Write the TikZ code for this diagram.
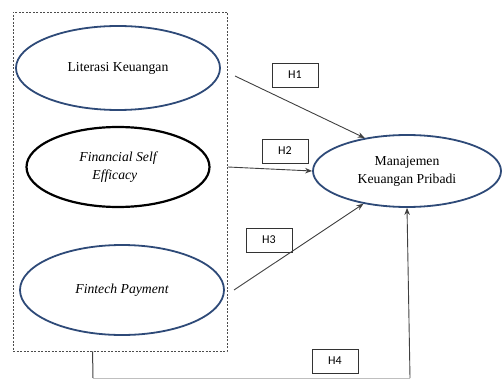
\documentclass[tikz,border=0pt]{standalone}
\usepackage{fontspec}
\setmainfont{Liberation Serif}
\newfontfamily\hfont{Carlito}
\usetikzlibrary{shapes.geometric,arrows.meta}
\definecolor{navy}{HTML}{2E4A78}
\begin{document}
\begin{tikzpicture}[x=1pt,y=-1pt,
  var/.style={ellipse,draw=navy,line width=1.8pt,inner sep=0pt,align=center,
    font=\fontsize{13.7}{18}\selectfont},
  hbox/.style={draw=black!80,line width=0.9pt,minimum width=46pt,minimum height=24pt,
    inner sep=0pt,font=\hfont\fontsize{12}{14}\selectfont},
  conn/.style={draw=black!75,line width=0.9pt,-{Stealth[length=7pt,width=5.5pt]}},
  plain/.style={draw=black!75,line width=1pt},
  faint/.style={draw=black!25,line width=1pt}]
\useasboundingbox (0,0) rectangle (502,379);
\node[draw=black!70,dash pattern=on 2pt off 1.5pt,line width=0.9pt,
  minimum width=214pt,minimum height=339pt,inner sep=0pt] (grp) at (120,181.5) {};
\node[var,minimum width=204pt,minimum height=84pt] (lk) at (118,68) {Literasi Keuangan};
\node[var,draw=black,line width=2.2pt,minimum width=183pt,minimum height=80pt,align=left]
  (fse) at (118,167) {\itshape Financial Self\\\hspace*{13pt}\itshape Efficacy};
\node[var,minimum width=204pt,minimum height=90pt] (fp) at (122,290) {\itshape Fintech Payment};
\node[var,minimum width=188pt,minimum height=72pt] (mkp) at (407,171) {Manajemen\\Keuangan Pribadi};
\node[hbox] (h1) at (295,75) {H1};
\node[hbox] (h2) at (285,151) {H2};
\node[hbox] (h3) at (269,240) {H3};
\node[hbox] (h4) at (335,361) {H4};
\coordinate (s1) at (235,76);
\coordinate (s2) at (228,167);
\coordinate (s3) at (234,290);
\coordinate (b1) at (93,378);
\coordinate (b2) at (410,378);
\draw[conn] (s1) -- (mkp.142);
\draw[conn] (s2) -- (mkp.west);
\draw[conn] (s3) -- (mkp.217);
\draw[plain] ([xshift=80pt]grp.south west) -- (b1);
\draw[faint] (b1) -- (b2);
\draw[conn] (b2) -- (mkp.south);
\end{tikzpicture}
\end{document}
